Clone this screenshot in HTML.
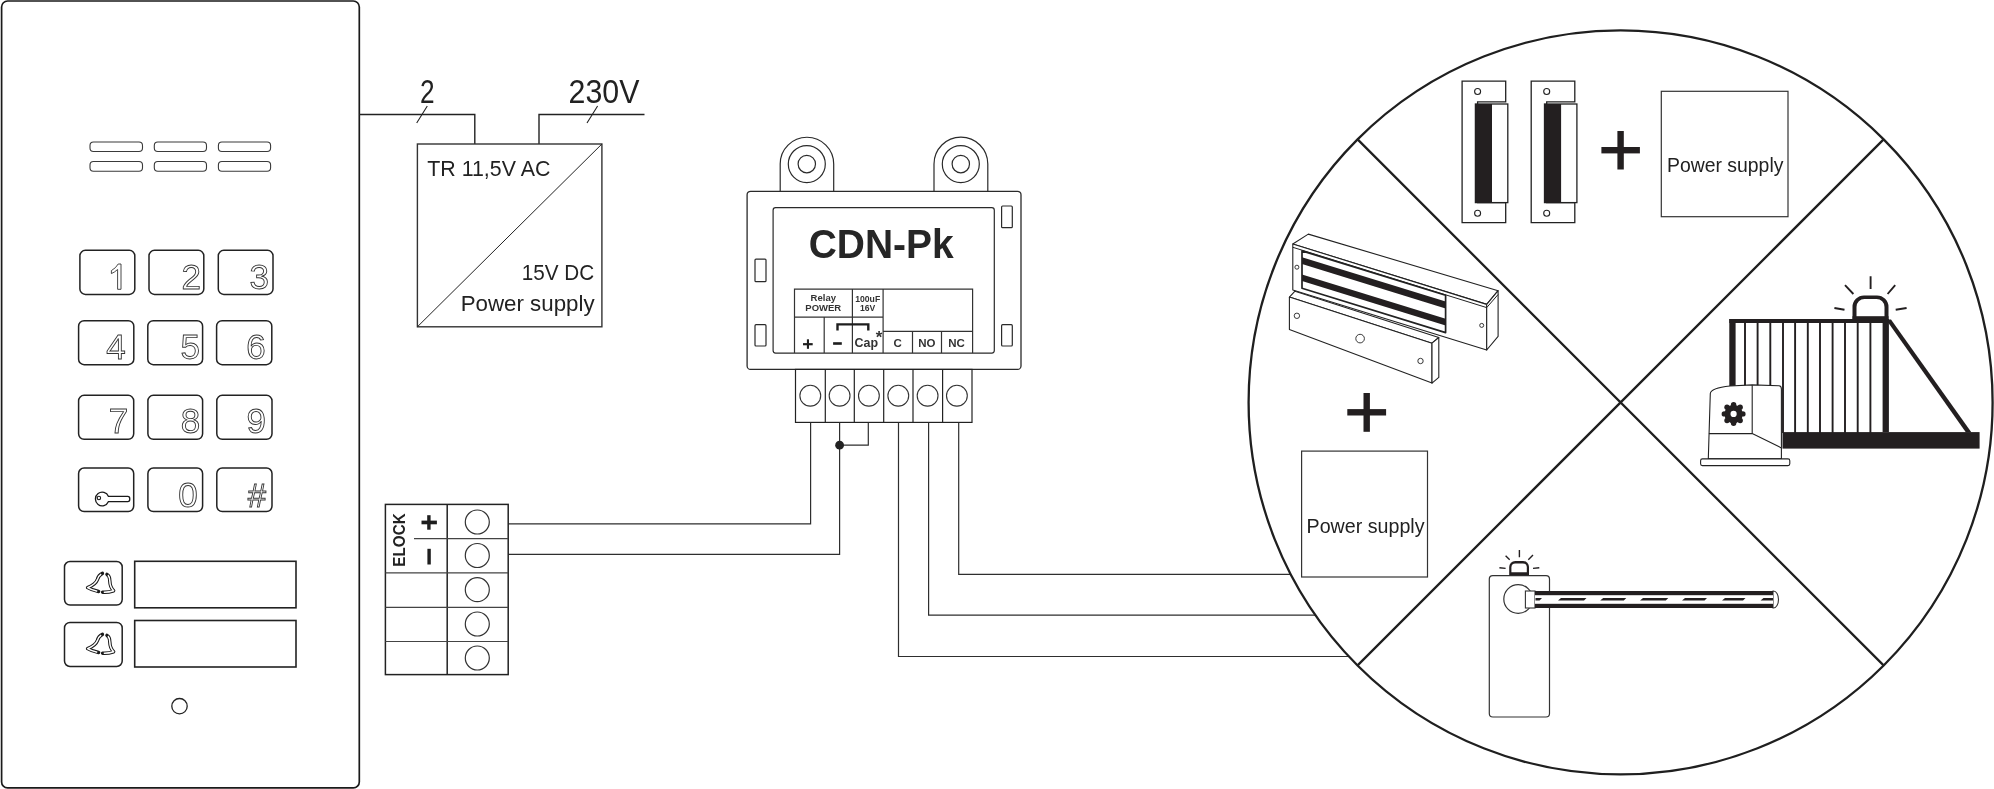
<!DOCTYPE html>
<html><head><meta charset="utf-8">
<style>
html,body{margin:0;padding:0;background:#fff;overflow:hidden}
svg{display:block;will-change:transform}
text{font-family:"Liberation Sans",sans-serif}
</style></head><body>
<svg width="1994" height="789" viewBox="0 0 1994 789">
<rect x="0" y="0" width="1994" height="789" fill="#fff"/>
<!-- intercom panel -->
<rect x="1.6" y="1" width="357.7" height="786.9" rx="6" fill="none" stroke="#1a1a1a" stroke-width="1.7"/>
<!-- speaker slots -->
<g fill="none" stroke="#3a3a3a" stroke-width="1.1">
<rect x="90" y="142" width="52.5" height="9.5" rx="3.5"/>
<rect x="154.3" y="142" width="52.2" height="9.5" rx="3.5"/>
<rect x="218.4" y="142" width="52.2" height="9.5" rx="3.5"/>
<rect x="90" y="161.5" width="52.5" height="9.8" rx="3.5"/>
<rect x="154.3" y="161.5" width="52.2" height="9.8" rx="3.5"/>
<rect x="218.4" y="161.5" width="52.2" height="9.8" rx="3.5"/>
</g>
<!-- keys -->
<g fill="none" stroke="#222" stroke-width="1.5">
<rect x="79.9" y="250.3" width="54.9" height="44.1" rx="5.5"/>
<rect x="149" y="250.3" width="54.8" height="44.1" rx="5.5"/>
<rect x="218.3" y="250.3" width="54.7" height="44.1" rx="5.5"/>
<rect x="78.6" y="320.7" width="55.2" height="44" rx="5.5"/>
<rect x="147.8" y="320.7" width="54.8" height="44" rx="5.5"/>
<rect x="216.6" y="320.7" width="55.2" height="44" rx="5.5"/>
<rect x="78.6" y="395.3" width="55.1" height="44" rx="5.5"/>
<rect x="147.9" y="395.3" width="54.7" height="44" rx="5.5"/>
<rect x="216.8" y="395.3" width="55.2" height="44" rx="5.5"/>
<rect x="78.6" y="468" width="55.1" height="43.6" rx="5.5"/>
<rect x="147.9" y="468" width="54.7" height="43.6" rx="5.5"/>
<rect x="216.8" y="468" width="55.2" height="43.6" rx="5.5"/>
<rect x="64.5" y="561.5" width="57.7" height="43.6" rx="5.5"/>
<rect x="64.5" y="622.4" width="57.7" height="44.1" rx="5.5"/>
</g>
<g fill="none" stroke="#222" stroke-width="1.6">
<rect x="134.7" y="561.3" width="161.3" height="46.5"/>
<rect x="134.7" y="620.5" width="161.3" height="46.5"/>
<circle cx="179.5" cy="706.2" r="7.7" stroke-width="1.3"/>
</g>
<g fill="#fff" stroke="#333" stroke-width="0.9" font-size="35" text-anchor="end">
<path d="M121 264 V289.3 H117.6 V269.5 Q114.5 272.3 111.4 273.6 V270.6 Q116 268 118.2 264 Z"/>
<text x="201" y="289.4">2</text>
<text x="269" y="289.4">3</text>
<text x="125.7" y="359.4">4</text>
<text x="200" y="359.4">5</text>
<text x="265.7" y="359.4">6</text>
<text x="128.2" y="433.3">7</text>
<text x="200.2" y="433.3">8</text>
<text x="265.9" y="433.3">9</text>
<text x="197.8" y="506.5">0</text>
<text x="266" y="506.9" font-size="33">#</text>
</g>
<!-- key icon -->
<path d="M108.5 496.4 H127.8 Q129.8 496.4 129.8 499 Q129.8 501.6 127.8 501.6 H108.5 A6.8 6.8 0 1 1 108.5 496.4 Z" fill="none" stroke="#1a1a1a" stroke-width="1.3"/>
<circle cx="98.9" cy="498" r="1.7" fill="none" stroke="#1a1a1a" stroke-width="1.1"/>
<!-- bells -->
<g id="bell">
<g fill="none" stroke="#1a1a1a" stroke-width="3.5" stroke-linecap="round" stroke-linejoin="round">
<path d="M102.4 573.4 Q98.6 575 97.4 579.6 Q95.6 584.5 87.6 587.6 Q92 590.3 98.6 591.4"/>
<path d="M107 574.4 Q109.8 576 109.8 581 Q110 587 113.6 590.8 Q108 592.6 102.6 592.2"/>
</g>
<g fill="none" stroke="#fff" stroke-width="1.5" stroke-linejoin="round" stroke-dasharray="0 4 92 100">
<path pathLength="100" d="M102.4 573.4 Q98.6 575 97.4 579.6 Q95.6 584.5 87.6 587.6 Q92 590.3 98.6 591.4"/>
<path pathLength="100" d="M107 574.4 Q109.8 576 109.8 581 Q110 587 113.6 590.8 Q108 592.6 102.6 592.2"/>
</g>
</g>
<use href="#bell" y="61"/>
<!-- 1 digit path override not used -->
<!-- power supply TR -->
<g fill="none" stroke="#222" stroke-width="1.4">
<path d="M359 114.5 H474.8 V144"/>
<path d="M539 144 V114.5 H644.5"/>
<path d="M416.7 123 L427.3 106 M587 123 L597.6 106" stroke-width="1.1"/>
<rect x="417.4" y="144" width="184.5" height="182.8" stroke="#333"/>
<path d="M417.4 326.8 L601.9 144" stroke-width="1"/>
</g>
<g fill="#222" font-size="33">
<text x="420" y="102.7" textLength="14.6" lengthAdjust="spacingAndGlyphs">2</text>
<text x="568.6" y="102.7" textLength="70.8" lengthAdjust="spacingAndGlyphs">230V</text>
</g>
<g fill="#222">
<text x="427.3" y="175.7" font-size="22.5" textLength="123" lengthAdjust="spacingAndGlyphs">TR 11,5V AC</text>
<text x="521.7" y="279.7" font-size="22.5" textLength="72.5" lengthAdjust="spacingAndGlyphs">15V DC</text>
<text x="460.7" y="311" font-size="21.8" textLength="133.9" lengthAdjust="spacingAndGlyphs">Power supply</text>
</g>
<!-- CDN-Pk module -->
<g fill="#fff" stroke="#2a2a2a" stroke-width="1.2">
<path d="M780.2 191.5 V164 A26.75 26.75 0 0 1 833.7 164 V191.5"/>
<path d="M934 191.5 V164 A26.9 26.9 0 0 1 987.8 164 V191.5"/>
<circle cx="806.8" cy="164.1" r="18.5"/>
<circle cx="806.8" cy="164.1" r="8.7"/>
<circle cx="960.8" cy="164.1" r="18.5"/>
<circle cx="960.8" cy="164.1" r="8.7"/>
<rect x="747.1" y="191.3" width="273.9" height="178.1" rx="3.5" stroke-width="1.3"/>
<rect x="773.1" y="207.7" width="221.2" height="145.4" rx="2.5"/>
<rect x="755" y="259.1" width="11" height="22.6" rx="1"/>
<rect x="755" y="324.7" width="11" height="21.3" rx="1"/>
<rect x="1001.6" y="206" width="10.7" height="21.7" rx="1"/>
<rect x="1001.6" y="324.7" width="10.7" height="21.3" rx="1"/>
</g>
<text x="881.2" y="257.8" font-size="41.5" font-weight="bold" fill="#262626" text-anchor="middle" textLength="145" lengthAdjust="spacingAndGlyphs">CDN-Pk</text>
<g fill="none" stroke="#333" stroke-width="1.2">
<path d="M794.5 353.1 V289.1 H972.6 V353.1"/>
<path d="M794.5 317.1 H883.1 M852.4 289.1 V353.1 M824.2 317.1 V353.1 M883.1 289.1 V353.1 M883.1 331.3 H972.6 M912.5 331.3 V353.1 M941.5 331.3 V353.1"/>
</g>
<path d="M837.5 330.6 V324.4 H868.3 V330.6" fill="none" stroke="#1e1e1e" stroke-width="2.4"/>
<g fill="#1e1e1e">
<rect x="803" y="343.1" width="9.7" height="2.2"/>
<rect x="806.9" y="339.3" width="2.1" height="9.5"/>
<rect x="833.1" y="342.2" width="8.7" height="2.6"/>
</g>
<g fill="#333" font-weight="bold" text-anchor="middle">
<text x="823.3" y="300.5" font-size="9.5">Relay</text>
<text x="823.3" y="311" font-size="9.5">POWER</text>
<text x="867.7" y="301.6" font-size="8.6" textLength="25" lengthAdjust="spacingAndGlyphs">100uF</text>
<text x="867.7" y="311" font-size="8.6">16V</text>
<text x="866.3" y="346.5" font-size="12.5" textLength="23.5" lengthAdjust="spacingAndGlyphs">Cap</text>
<text x="879" y="342.5" font-size="17">*</text>
<text x="897.7" y="347" font-size="11.5">C</text>
<text x="926.8" y="347" font-size="11.5">NO</text>
<text x="956.5" y="347" font-size="11.5">NC</text>
</g>
<!-- terminal block -->
<g fill="none" stroke="#222" stroke-width="1.2">
<rect x="795.5" y="369.4" width="176.5" height="53"/>
<path d="M825.3 369.4 V422.4 M854.3 369.4 V422.4 M883.7 369.4 V422.4 M913 369.4 V422.4 M942.6 369.4 V422.4"/>
</g>
<g fill="none" stroke="#333" stroke-width="1.1">
<circle cx="810.3" cy="395.7" r="10.4"/>
<circle cx="839.6" cy="395.7" r="10.4"/>
<circle cx="868.9" cy="395.7" r="10.4"/>
<circle cx="898.3" cy="395.7" r="10.4"/>
<circle cx="927.6" cy="395.7" r="10.4"/>
<circle cx="956.9" cy="395.7" r="10.4"/>
</g>
<!-- wires -->
<g fill="none" stroke="#2e2e2e" stroke-width="1.2">
<path d="M810.6 422.4 V523.8 H508.2"/>
<path d="M839.6 422.4 V554.3 H508.2"/>
<path d="M868.3 422.4 V445.2 H839.6"/>
<path d="M898.5 422.4 V656.5 H1348.9"/>
<path d="M928.6 422.4 V615.2 H1315.5"/>
<path d="M958.7 422.4 V574.3 H1290.7"/>
</g>
<circle cx="839.6" cy="445.2" r="4.4" fill="#222"/>
<!-- ELOCK block -->
<g fill="none" stroke="#222" stroke-width="1.5">
<rect x="385.4" y="504.4" width="122.8" height="170.2"/>
<path d="M447.2 504.4 V674.6"/>
<path d="M414 538.6 H508.2 M385.4 572.8 H508.2 M385.4 607.3 H508.2 M385.4 641.5 H508.2" stroke="#444" stroke-width="1.2"/>
</g>
<g fill="none" stroke="#333" stroke-width="1.2">
<circle cx="477.3" cy="522" r="12"/>
<circle cx="477.3" cy="555.5" r="12"/>
<circle cx="477.3" cy="589.7" r="12"/>
<circle cx="477.3" cy="624" r="12"/>
<circle cx="477.3" cy="658" r="12"/>
</g>
<text transform="translate(405 540) rotate(-90)" font-size="16.8" font-weight="bold" fill="#222" text-anchor="middle" textLength="53.3" lengthAdjust="spacingAndGlyphs">ELOCK</text>
<g fill="#1e1e1e">
<rect x="421.5" y="520.6" width="15.4" height="3.7"/>
<rect x="427.2" y="515.2" width="3.4" height="14.5"/>
<rect x="427.4" y="548.8" width="3.4" height="15.7"/>
</g>

<!-- big circle -->
<g fill="none" stroke="#1f1f1f" stroke-width="2.3">
<circle cx="1620.6" cy="402.4" r="372"/>
<path d="M1357.6 139.4 L1883.6 665.4 M1883.6 139.4 L1357.6 665.4"/>
</g>
<!-- top quadrant: electric strikes -->
<g id="strike">
<path d="M1462.1 81.2 H1505.7 V101.8 H1477.6 V202.6 H1505.7 V222.7 H1462.1 Z" fill="#fff" stroke="#222" stroke-width="1.3"/>
<rect x="1475.4" y="104" width="32.4" height="98.6" fill="#fff" stroke="#222" stroke-width="1.3"/>
<rect x="1475.4" y="104" width="16.6" height="98.6" fill="#231f20"/>
<circle cx="1477.6" cy="91.5" r="3" fill="none" stroke="#222" stroke-width="1.1"/>
<circle cx="1477.6" cy="213.3" r="3" fill="none" stroke="#222" stroke-width="1.1"/>
</g>
<use href="#strike" x="69.1"/>
<g fill="#231f20">
<rect x="1601.4" y="147" width="38.5" height="6.4"/>
<rect x="1617.4" y="131" width="6.4" height="38.5"/>
<rect x="1347.3" y="409.1" width="38.8" height="6.4"/>
<rect x="1363.5" y="393" width="6.4" height="38.8"/>
</g>
<g fill="#fff" stroke="#333" stroke-width="1.2">
<rect x="1661.3" y="91.3" width="126.7" height="125.4"/>
<rect x="1301.6" y="451.1" width="125.9" height="125.9"/>
</g>
<g fill="#222" font-size="19.5">
<text x="1667" y="171.8" textLength="116.4" lengthAdjust="spacingAndGlyphs">Power supply</text>
<text x="1306.6" y="533.3" textLength="117.9" lengthAdjust="spacingAndGlyphs">Power supply</text>
</g>
<!-- left quadrant: maglock -->
<g fill="#fff" stroke="#222" stroke-width="1.1" stroke-linejoin="round">
<path d="M1292.8 244 L1308.3 234.1 L1498.1 290.7 L1486.7 304.4 Z"/>
<path d="M1292.8 244 L1486.7 304.4 V350 L1292.8 290 Z"/>
<path d="M1486.7 304.4 L1498.1 290.7 V336.3 L1486.7 350 Z"/>
<path d="M1302 250.9 L1445.6 295.3 V332.6 L1302 288.2 Z" stroke-width="1.7"/>
<path d="M1292.8 247.3 L1486.7 307.6 L1498.1 294.5" fill="none" stroke-width="1"/>
</g>
<g fill="#231f20">
<path d="M1302 257.2 L1445.6 301.6 V308.4 L1302 264 Z"/>
<path d="M1302 274.4 L1445.6 318.8 V325.5 L1302 281.1 Z"/>
</g>
<g fill="#fff" stroke="#222" stroke-width="1.1" stroke-linejoin="round">
<path d="M1289.4 297.1 L1295 291.2 L1438.8 337.5 L1432 343.2 Z"/>
<path d="M1289.4 297.1 L1432 343.2 V383.1 L1289.4 329.5 Z"/>
<path d="M1432 343.2 L1438.8 337.5 V377.4 L1432 383.1 Z"/>
</g>
<g fill="none" stroke="#222" stroke-width="0.9">
<circle cx="1296.9" cy="267.2" r="2"/>
<circle cx="1296.9" cy="315.8" r="2.7"/>
<circle cx="1360.1" cy="338.6" r="4.3"/>
<circle cx="1420.5" cy="361" r="2.7"/>
<circle cx="1481.7" cy="325.4" r="2"/>
</g>
<!-- right quadrant: gate -->
<g fill="#231f20">
<rect x="1729.3" y="319" width="159.6" height="4"/>
<rect x="1729.3" y="319" width="6.3" height="70"/>
<rect x="1882.6" y="319" width="6.3" height="113"/>
<rect x="1782.5" y="432.1" width="197.1" height="16.5"/>
<path d="M1886 319.6 L1891 319.6 L1971.5 432.5 L1966 432.5 Z"/>
<rect x="1852.5" y="316.2" width="36" height="4"/>
<path d="M1852.5 319.5 V307 A11.5 11.5 0 0 1 1864 295.5 H1877 A11.5 11.5 0 0 1 1888.5 307 V319.5 H1884.5 V307 A8 8 0 0 0 1876.5 299 H1864.5 A8 8 0 0 0 1856.5 307 V319.5 Z"/>
</g>
<g stroke="#231f20" stroke-width="1.9">
<path d="M1745 322 V433 M1757.6 322 V433 M1770.3 322 V433 M1783 322 V433 M1795.1 322 V433 M1807.8 322 V433 M1820 322 V433 M1832.6 322 V433 M1845 322 V433 M1857.7 322 V433 M1870.4 322 V433"/>
<path d="M1870.6 276.3 V289 M1845 285.2 L1853.4 294 M1887.6 294 L1895.2 285.2 M1834.4 308 L1844.5 309.8 M1895.7 309.8 L1906.6 308"/>
</g>
<g fill="#fff" stroke="#222" stroke-width="1.1" stroke-linejoin="round">
<path d="M1708.3 458.8 L1710.3 393.5 Q1711 388 1730 386 L1752.2 384.9 L1779 385.8 Q1781.4 386 1781.4 389 V458.8 Z"/>
<path d="M1752.2 384.9 V433.6 L1781.4 447.9 M1708.9 433.6 H1752.2"/>
<rect x="1700.6" y="458.9" width="89.2" height="6.7" rx="1.8"/>
</g>
<g fill="#231f20">
<circle cx="1733.6" cy="413.9" r="9.2"/>
<circle cx="1733.60" cy="404.60" r="2.7"/><circle cx="1740.18" cy="407.32" r="2.7"/><circle cx="1742.90" cy="413.90" r="2.7"/><circle cx="1740.18" cy="420.48" r="2.7"/><circle cx="1733.60" cy="423.20" r="2.7"/><circle cx="1727.02" cy="420.48" r="2.7"/><circle cx="1724.30" cy="413.90" r="2.7"/><circle cx="1727.02" cy="407.32" r="2.7"/>
<circle cx="1733.6" cy="413.9" r="3.1" fill="#fff"/>
</g>
<!-- bottom quadrant: barrier -->
<g fill="#fff" stroke="#333" stroke-width="1.2">
<rect x="1489.3" y="575.6" width="60.2" height="141.4" rx="3.5"/>
<circle cx="1518.2" cy="599" r="14.4"/>
</g>
<g fill="#231f20">
<path d="M1509.2 575.2 V567 A6 6 0 0 1 1515.2 561 H1523 A6 6 0 0 1 1529 567 V575.2 Z"/>
</g>
<path d="M1511.4 572.3 V567.5 A4 4 0 0 1 1515.4 563.5 H1522.8 A4 4 0 0 1 1526.8 567.5 V572.3 Z" fill="#fff"/>
<g stroke="#231f20" stroke-width="1.4">
<path d="M1519.4 550 V557.3 M1505.6 555.7 L1509.7 559.7 M1528.3 559.7 L1533 555 M1499.4 567.7 L1505.6 568.4 M1533 568.4 L1539.3 567.7"/>
</g>
<g fill="#fff" stroke="#333" stroke-width="1.1">
<path d="M1773 591 H1773.5 A5 8.5 0 0 1 1773.5 608 H1773 Z"/>
<rect x="1525.4" y="591" width="9.6" height="17"/>
</g>
<g fill="#231f20">
<rect x="1535" y="591" width="238" height="17" fill="#fff"/>
<rect x="1535" y="591" width="238" height="4.2"/>
<rect x="1535" y="603.8" width="238" height="4.2"/>
<path d="M1561 598 H1586.5 L1584 600.5 H1558 Z M1603.2 598 H1626.3 L1623.8 600.5 H1600.2 Z M1643 598 H1668.3 L1665.8 600.5 H1640 Z M1685 598 H1707 L1704.5 600.5 H1682 Z M1725 598 H1745.5 L1743 600.5 H1722 Z M1763.5 598 H1773 V600.5 H1760.5 Z M1535.5 598 H1542 L1539.5 600.5 H1535.5 Z"/>
</g>
</svg>
</body></html>
